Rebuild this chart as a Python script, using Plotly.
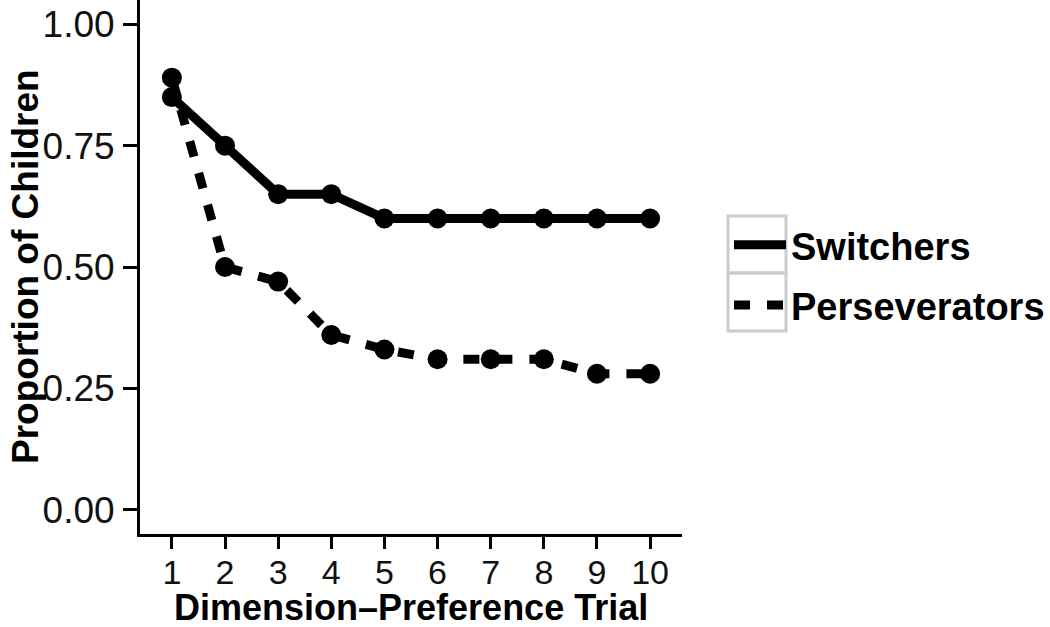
import plotly.graph_objects as go

trials = [1, 2, 3, 4, 5, 6, 7, 8, 9, 10]
trial_labels = [str(t) for t in trials]
switchers = [0.85, 0.75, 0.65, 0.65, 0.60, 0.60, 0.60, 0.60, 0.60, 0.60]
perseverators = [0.89, 0.50, 0.47, 0.36, 0.33, 0.31, 0.31, 0.31, 0.28, 0.28]
y_ticks = [0.00, 0.25, 0.50, 0.75, 1.00]
y_tick_labels = ["0.00", "0.25", "0.50", "0.75", "1.00"]
x_title = "Dimension\u2013Preference Trial"
y_title = "Proportion of Children"

FONT = "Liberation Sans, Arial, Helvetica, sans-serif"
LW = 9
MS = 20
DASH = "16px,17px"

fig = go.Figure()
series = [("Switchers", switchers, "solid"), ("Perseverators", perseverators, DASH)]
for name, vals, dash in series:
    fig.add_trace(go.Scatter(
        x=trials, y=vals, mode="lines", name=name, legendgroup=name,
        line=dict(color="black", width=LW, dash=dash),
        showlegend=True,
    ))
for name, vals, dash in series:
    fig.add_trace(go.Scatter(
        x=trials, y=vals, mode="markers", name=name, legendgroup=name,
        marker=dict(color="black", size=MS),
        showlegend=False,
    ))

# plot area in pixels
L, R, T, B = 140, 682, 0, 534
def px_x(p):
    return (p - L) / (R - L)
def px_y(p):
    return (B - p) / (B - T)

# legend key boxes (ggplot style grey key borders)
for top, bot in [(216, 273), (273, 331)]:
    fig.add_shape(type="rect", xref="paper", yref="paper",
                  x0=px_x(728), x1=px_x(786), y0=px_y(bot), y1=px_y(top),
                  line=dict(color="#cccccc", width=3), fillcolor="rgba(0,0,0,0)",
                  layer="below")

# axis titles
fig.add_annotation(text=x_title, xref="paper", yref="paper", x=0.5, y=px_y(607),
                   xanchor="center", yanchor="middle", showarrow=False,
                   borderpad=0, borderwidth=0,
                   font=dict(family=FONT, size=36, color="black", weight="bold"))
fig.add_annotation(text=y_title, xref="paper", yref="paper", x=px_x(25), y=0.5,
                   xanchor="center", yanchor="middle", showarrow=False, textangle=-90,
                   borderpad=0, borderwidth=0,
                   font=dict(family=FONT, size=37, color="black", weight="bold"))

fig.update_layout(
    width=1050, height=627,
    margin=dict(l=L, r=1050 - R, t=T, b=627 - B),
    plot_bgcolor="white", paper_bgcolor="white",
    font=dict(family=FONT, color="black", size=37),
    showlegend=True,
    legend=dict(
        x=px_x(729), y=px_y(275), xanchor="left", yanchor="middle",
        font=dict(family=FONT, size=38, color="black", weight="bold"),
        bgcolor="rgba(0,0,0,0)", borderwidth=0,
        traceorder="grouped", tracegroupgap=8, itemwidth=52,
    ),
    xaxis=dict(
        range=[0.4, 10.6], tickmode="array", tickvals=trials, ticktext=trial_labels,
        showline=True, linecolor="black", linewidth=3,
        ticks="outside", ticklen=12, tickwidth=3, tickcolor="black",
        showgrid=False, zeroline=False,
        tickfont=dict(family=FONT, size=34, color="#111111"),
        ticklabelstandoff=-6,
    ),
    yaxis=dict(
        range=[-0.05, 1.05], tickmode="array", tickvals=y_ticks, ticktext=y_tick_labels,
        showline=True, linecolor="black", linewidth=3,
        ticks="outside", ticklen=14, tickwidth=3, tickcolor="black",
        showgrid=False, zeroline=False,
        tickfont=dict(family=FONT, size=37, color="#111111"),
        ticklabelstandoff=1,
    ),
)

fig.write_html("out.html", post_script="document.body.style.margin='0';",
               config={"displayModeBar": False})
